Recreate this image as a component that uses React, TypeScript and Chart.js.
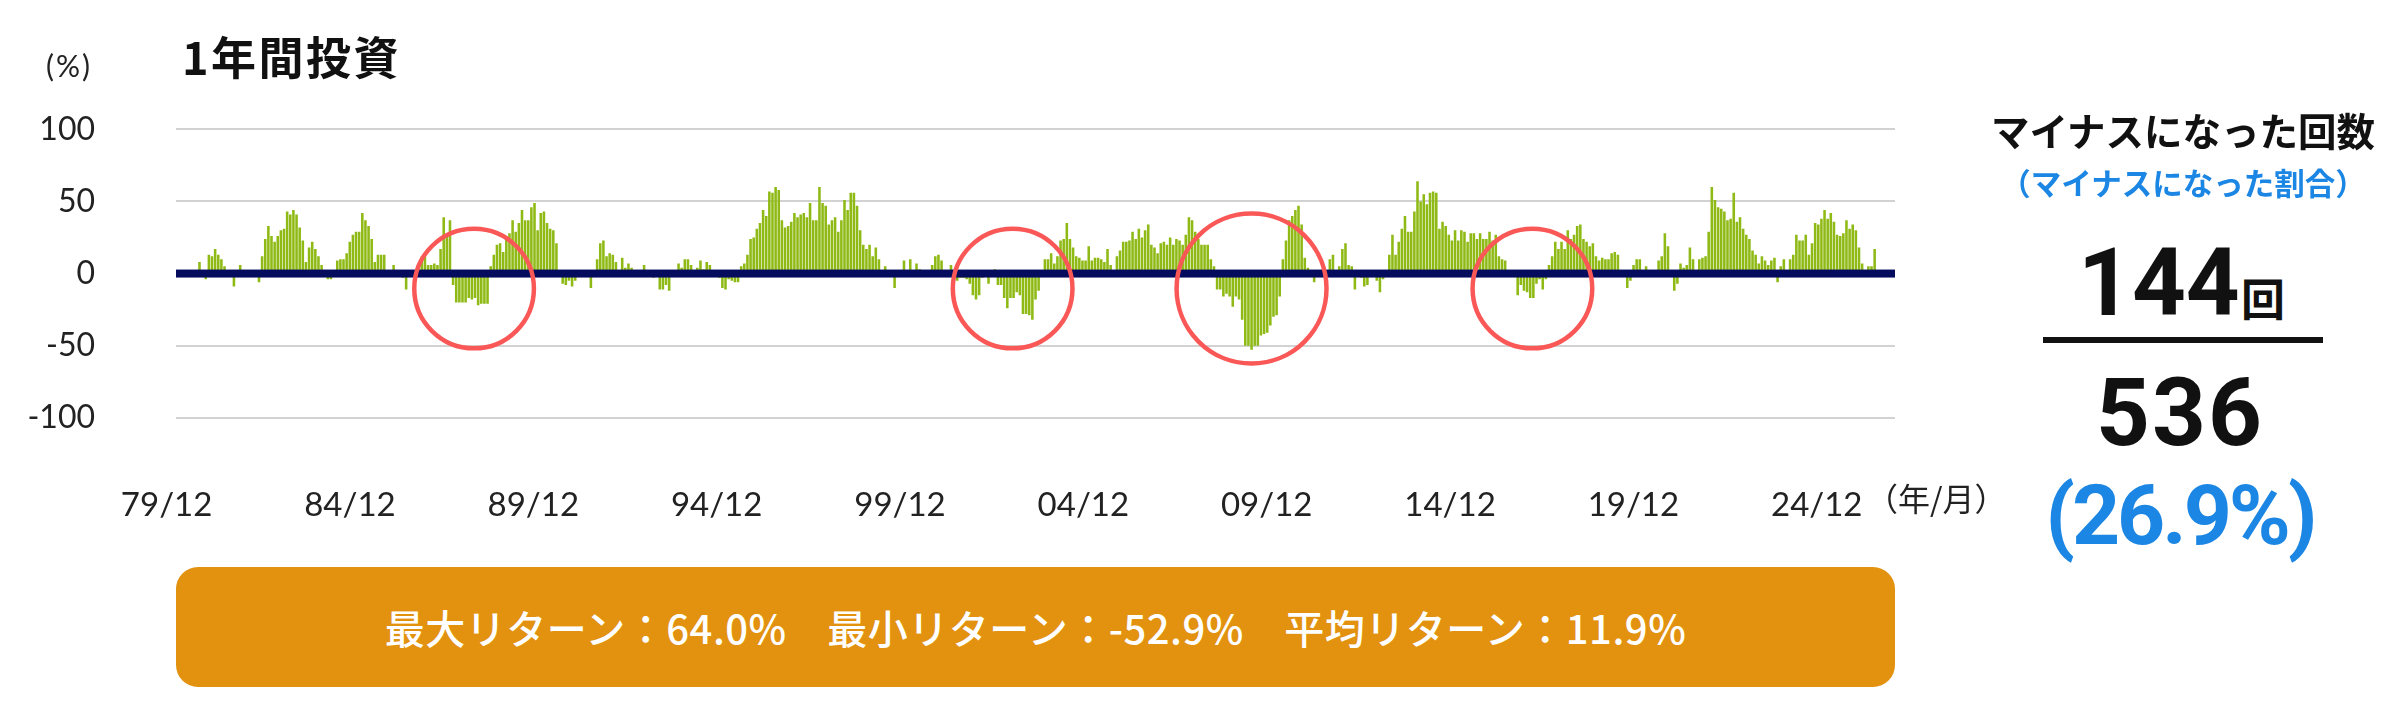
import { useEffect, useRef } from "react"
import { Chart, registerables } from "chart.js"

Chart.register(...registerables)

// 1年間投資のリターン(%)、月次 536本
const RETURNS = [
  8, 2, -4, 13, 12, 17, 13, 10, 5, 1, 2, -9,
  1, 6, 1, 0, 1, 2, 1, -6, 12, 24, 33, 26,
  22, 26, 30, 31, 43, 41, 44, 41, 32, 23, 8, 18,
  22, 17, 12, 6, 1, -4, -4, 1, 9, 10, 10, 14,
  22, 27, 29, 29, 42, 37, 33, 24, 8, 13, 13, 13,
  1, 0, 6, 1, 0, -3, -11, -1, -2, 1, 3, 12,
  12, 6, 6, 7, 6, 17, 39, 26, 37, -8, -20, -20,
  -20, -20, -17, -18, -17, -22, -21, -21, -21, 5, 13, 20,
  21, 15, 25, 28, 37, 29, 35, 44, 37, 37, 46, 49,
  30, 42, 43, 35, 31, 30, 21, 1, -7, -8, -5, -9,
  -5, 1, 0, -1, 1, -10, 1, 10, 21, 23, 12, 14,
  13, 8, 1, 11, 4, 7, 4, 1, 0, 1, 6, 1,
  1, -3, -2, -11, -11, -8, -12, 1, 0, 7, 4, 10,
  10, 6, 1, 4, 9, 3, 8, 6, 1, 0, -3, -10,
  -11, -4, -5, -6, -6, 5, 7, 13, 24, 25, 31, 35,
  44, 40, 57, 56, 60, 58, 37, 32, 33, 36, 42, 39,
  41, 42, 39, 49, 37, 37, 60, 49, 47, 34, 37, 39,
  29, 37, 51, 44, 56, 56, 47, 30, 20, 17, 20, 12,
  18, 10, 1, 5, 0, 1, -10, 0, 1, 9, 1, 10,
  1, 7, 3, 0, 1, 1, 6, 12, 13, 9, 1, 0,
  6, 1, -5, -3, -3, -4, -7, -15, -18, -15, -3, 0,
  -7, 0, 3, -8, -8, -17, -24, -17, -17, -13, -15, -28,
  -28, -29, -32, -18, -12, 1, 10, 10, 14, 7, 12, 23,
  24, 35, 24, 18, 12, 11, 9, 9, 19, 9, 11, 11,
  10, 8, 17, 6, 1, 12, 16, 22, 22, 23, 29, 24,
  31, 25, 30, 34, 20, 18, 14, 21, 22, 20, 25, 20,
  24, 23, 20, 27, 39, 37, 29, 24, 20, 20, 20, 10,
  5, -11, -11, -16, -14, -16, -23, -16, -18, -32, -50, -50,
  -52.9, -50, -50, -43, -42, -41, -36, -30, -29, -16, 10, 23,
  37, 40, 44, 47, 34, 11, 4, 1, -6, 0, 1, -1,
  2, 10, 13, 1, 5, 17, 21, 6, 5, -11, 1, -3,
  -9, -8, 1, 0, -5, -13, -4, 1, 13, 27, 13, 22,
  31, 40, 29, 29, 43, 64.0, 50, 55, 48, 56, 57, 56,
  31, 36, 33, 27, 23, 30, 23, 30, 29, 22, 28, 28,
  24, 28, 24, 24, 29, 23, 27, 12, 10, 9, 1, 0,
  1, -15, -8, -12, -13, -17, -17, -7, -4, -11, -4, 6,
  12, 22, 17, 22, 17, 30, 24, 27, 33, 34, 24, 22,
  19, 21, 12, 9, 11, 10, 10, 14, 15, 13, 1, 0,
  -10, -5, 6, 10, 10, 1, 5, 1, 0, 1, 9, 12,
  28, 19, 1, -12, -7, 7, 4, 6, 18, 10, 1, 10,
  11, 12, 29, 60, 51, 46, 45, 43, 37, 38, 56, 36,
  39, 31, 27, 24, 16, 13, 7, 12, 9, 6, 9, 11,
  -6, 5, 10, 1, 10, 13, 27, 23, 23, 27, 13, 21,
  35, 34, 38, 44, 38, 42, 36, 27, 26, 28, 37, 31,
  34, 30, 18, 7, 1, 5, 5, 17,
]

// empty slots before / after the bars on the category axis
const LEAD_EMPTY = 7
const TRAIL_EMPTY = 6

// x labels: months counted from 79/12
const TICK_MONTHS = [0, 60, 120, 180, 240, 300, 360, 420, 480, 540]
const TICK_LABELS = ["79/12", "84/12", "89/12", "94/12", "99/12", "04/12", "09/12", "14/12", "19/12", "24/12"]

const Y_TICKS = [-100, -50, 0, 50, 100]

// red circles: bar index, centre value, radius (in % units)
const CIRCLE_AT = [87.7, 259.7, 336, 425.7]
const CIRCLE_R = [41.5, 41.5, 52, 41.5]
const CIRCLE_Y = -10.4

const BAR_COLOR = "#8fba16"
const ZERO_COLOR = "#050c5e"
const CIRCLE_COLOR = "#fa5757"

const CJK = "'Noto Sans CJK JP', sans-serif"

const marksPlugin = {
  id: "marks",
  afterDatasetsDraw(chart: any) {
    const { ctx, chartArea, scales } = chart
    const y0 = scales.y.getPixelForValue(0)
    ctx.save()
    ctx.fillStyle = ZERO_COLOR
    ctx.fillRect(chartArea.left, y0 - 4, chartArea.right - chartArea.left, 8)
    ctx.strokeStyle = CIRCLE_COLOR
    ctx.lineWidth = 4.5
    CIRCLE_AT.forEach((at, i) => {
      const cx = scales.x.getPixelForValue(at + LEAD_EMPTY)
      const cy = scales.y.getPixelForValue(CIRCLE_Y)
      const r = Math.abs(y0 - scales.y.getPixelForValue(CIRCLE_R[i]))
      ctx.beginPath()
      ctx.arc(cx, cy, r, 0, Math.PI * 2)
      ctx.stroke()
    })
    ctx.restore()
  },
}

export default function App() {
  const canvasRef = useRef<HTMLCanvasElement>(null)

  useEffect(() => {
    document.body.style.margin = "0"
    const canvas = canvasRef.current
    if (!canvas) return

    const total = LEAD_EMPTY + RETURNS.length + TRAIL_EMPTY
    const labels = Array.from({ length: total }, (_, i) => String(i))
    const values = [
      ...Array(LEAD_EMPTY).fill(null),
      ...RETURNS,
      ...Array(TRAIL_EMPTY).fill(null),
    ]

    const chart = new Chart(canvas, {
      type: "bar",
      data: {
        labels,
        datasets: [
          {
            data: values,
            backgroundColor: BAR_COLOR,
            borderWidth: 0,
            barPercentage: 0.82,
            categoryPercentage: 1,
            xAxisID: "x",
            yAxisID: "y",
          },
        ],
      },
      options: {
        animation: false,
        responsive: true,
        maintainAspectRatio: false,
        layout: { padding: { top: 129.4, bottom: 42.3, left: 0, right: 105 } },
        plugins: { legend: { display: false }, tooltip: { enabled: false } },
        scales: {
          x: { type: "category", display: false },
          x2: {
            type: "linear",
            position: "bottom",
            offset: false,
            min: 3.08,
            max: 565.6,
            grid: { display: false, offset: false },
            border: { display: false },
            afterBuildTicks: (axis: any) => {
              axis.ticks = TICK_MONTHS.map((v) => ({ value: v }))
            },
            afterFit: (scale: any) => {
              scale.height = 100
            },
            ticks: {
              autoSkip: false,
              maxRotation: 0,
              padding: 59.5,
              color: "#222",
              font: { family: "Lato", size: 33 },
              callback: (v: any) => TICK_LABELS[TICK_MONTHS.indexOf(Number(v))] ?? "",
            },
          },
          y: {
            min: -100,
            max: 100,
            afterBuildTicks: (axis: any) => {
              axis.ticks = Y_TICKS.map((v) => ({ value: v }))
            },
            afterFit: (scale: any) => {
              scale.width = 176
            },
            grid: { color: "#d2d2d2", lineWidth: 2, drawTicks: false },
            border: { display: false },
            ticks: {
              padding: 81,
              color: "#222",
              font: { family: "Lato", size: 32 },
            },
          },
        },
      },
      plugins: [marksPlugin],
    })

    return () => chart.destroy()
  }, [])

  return (
    <div style={{ position: "relative", width: 2400, height: 720, background: "#fff", overflow: "hidden" }}>
      <div style={{ position: "absolute", left: 0, top: 0, width: 2000, height: 560 }}>
        <canvas ref={canvasRef} />
      </div>

      <div style={{ position: "absolute", left: 46, top: 49, font: "400 30px Lato", lineHeight: "32px", letterSpacing: 2, color: "#222" }}>
        (%)
      </div>
      <div style={{ position: "absolute", left: 182, top: 33, font: `700 45px ${CJK}`, lineHeight: "45px", letterSpacing: 2.5, color: "#111" }}>
        1年間投資
      </div>
      <div style={{ position: "absolute", left: 1866, top: 481, font: `400 32px ${CJK}`, lineHeight: "32px", color: "#222" }}>
        （年/月）
      </div>

      {/* right panel */}
      <div style={{ position: "absolute", left: 1963, top: 110, width: 440, textAlign: "center", font: `700 38.5px ${CJK}`, lineHeight: "38px", color: "#111" }}>
        マイナスになった回数
      </div>
      <div style={{ position: "absolute", left: 1963, top: 167, width: 440, textAlign: "center", font: `700 30.5px ${CJK}`, lineHeight: "30px", color: "#1b86e3" }}>
        （マイナスになった割合）
      </div>
      <div style={{ position: "absolute", left: 2078, top: 236, font: "700 94px Roboto", lineHeight: "94px", color: "#111" }}>
        144
      </div>
      <div style={{ position: "absolute", left: 2241, top: 275, font: `700 44px ${CJK}`, lineHeight: "44px", color: "#111" }}>
        回
      </div>
      <div style={{ position: "absolute", left: 2043, top: 337, width: 280, height: 6, background: "#111" }} />
      <div style={{ position: "absolute", left: 1960, top: 366, width: 440, textAlign: "center", font: "700 94px Roboto", lineHeight: "94px", letterSpacing: 2, color: "#111" }}>
        536
      </div>
      <div style={{ position: "absolute", left: 1960, top: 474, width: 440, textAlign: "center", font: "700 84px Roboto", lineHeight: "84px", letterSpacing: -3, color: "#1b86e3" }}>
        (26.9%)
      </div>

      {/* summary box */}
      <div
        style={{
          position: "absolute",
          left: 176,
          top: 567,
          width: 1719,
          height: 120,
          borderRadius: 22,
          background: "#e2920f",
          color: "#fff",
          textAlign: "center",
          font: `500 40px ${CJK}`,
          lineHeight: "120px",
          letterSpacing: 0.5,
        }}
      >
        最大リターン：64.0%　最小リターン：-52.9%　平均リターン：11.9%
      </div>
    </div>
  )
}
